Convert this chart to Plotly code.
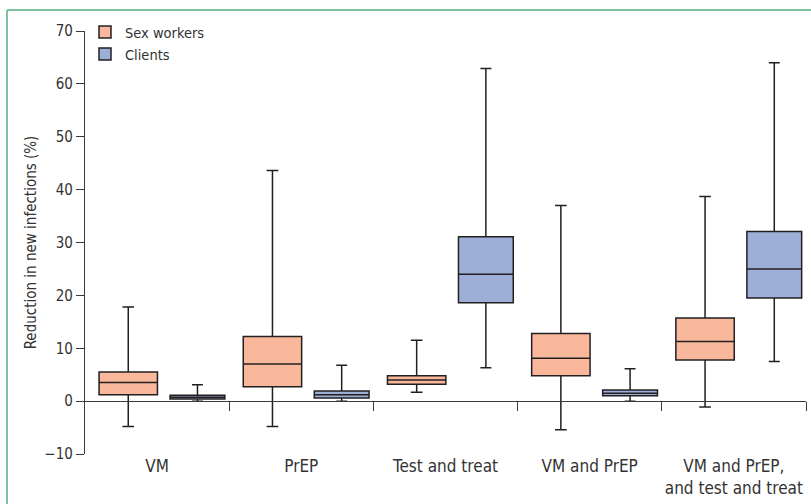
import plotly.graph_objects as go

categories = ["VM", "PrEP", "Test and treat", "VM and PrEP", "VM and PrEP,<br>and test and treat"]

sw_upper = [17.8, 43.6, 11.5, 37.0, 38.7]
sw_q3 = [5.5, 12.2, 4.8, 12.8, 15.7]
sw_median = [3.5, 7.0, 4.0, 8.1, 11.3]
sw_q1 = [1.2, 2.7, 3.2, 4.8, 7.8]
sw_lower = [-4.8, -4.8, 1.7, -5.4, -1.1]

cl_upper = [3.1, 6.8, 62.9, 6.1, 64.0]
cl_q3 = [1.1, 1.9, 31.1, 2.1, 32.1]
cl_median = [0.75, 1.2, 24.0, 1.5, 25.0]
cl_q1 = [0.4, 0.6, 18.6, 1.0, 19.5]
cl_lower = [0.0, 0.0, 6.3, 0.0, 7.5]

y_ticks = [-10, 0, 10, 20, 30, 40, 50, 60, 70]

FONT = "Liberation Sans Narrow, DejaVu Sans Condensed, Liberation Sans, sans-serif"
LINE = "#231F20"
AX = "#3a3a3a"
TXT = "#333333"

idx = list(range(len(categories)))
sw_x = [i - 0.2 for i in idx]
cl_x = [i + 0.28 for i in idx]

fig = go.Figure()
fig.add_trace(go.Box(
    name="Sex workers", x=sw_x, q1=sw_q1, median=sw_median, q3=sw_q3,
    lowerfence=sw_lower, upperfence=sw_upper, width=0.405, whiskerwidth=0.2,
    fillcolor="#F9B89B", line=dict(color=LINE, width=1.5), boxpoints=False,
))
fig.add_trace(go.Box(
    name="Clients", x=cl_x, q1=cl_q1, median=cl_median, q3=cl_q3,
    lowerfence=cl_lower, upperfence=cl_upper, width=0.38, whiskerwidth=0.2,
    fillcolor="#9DAFD6", line=dict(color=LINE, width=1.5), boxpoints=False,
))
# invisible trace to carry the zero-line axis
fig.add_trace(go.Scatter(x=[idx[0]], y=[0], xaxis="x2", mode="markers",
                         marker=dict(opacity=0), showlegend=False, hoverinfo="skip"))

W, H = 811, 504
ml, mr, mt, mb = 85, 5, 31, 50
pw, ph = W - ml - mr, H - mt - mb
ymin, ymax = -10, 70
xr = [-0.5, len(categories) - 0.5]

fig.update_layout(
    width=W, height=H,
    margin=dict(l=ml, r=mr, t=mt, b=mb, pad=0),
    paper_bgcolor="white", plot_bgcolor="white",
    boxmode="overlay",
    font=dict(family=FONT, size=14, color=TXT),
    showlegend=True,
    legend=dict(x=0.0, y=1.035, xanchor="left", yanchor="top",
                bgcolor="rgba(0,0,0,0)", font=dict(size=14.5, color=TXT),
                tracegroupgap=2, itemwidth=30),
    xaxis=dict(range=xr, tickvals=idx, ticktext=categories, ticks="",
               showline=False, showgrid=False, zeroline=False,
               tickfont=dict(size=17, color=TXT)),
    xaxis2=dict(range=xr, overlaying="x", anchor="free",
                position=(0 - ymin) / (ymax - ymin), side="bottom",
                showline=True, linecolor=AX, linewidth=1.3,
                tickvals=[i + 0.5 for i in idx], ticks="outside", ticklen=9,
                tickcolor=AX, tickwidth=1.3, showticklabels=False,
                showgrid=False, zeroline=False),
    yaxis=dict(range=[ymin, ymax], tickvals=y_ticks,
               ticktext=[("\u2212" + str(-v)) if v < 0 else str(v) for v in y_ticks],
               ticks="outside", ticklen=8, tickcolor=AX, tickwidth=1.3,
               showline=True, linecolor=AX, linewidth=1.3,
               showgrid=False, zeroline=False,
               tickfont=dict(size=15, color=TXT),
               title=dict(text="Reduction in new infections (%)",
                          font=dict(size=15, color=TXT), standoff=4)),
)

# green frame (left and top edges)
fx = (7 - ml) / pw
fy = 1 + (mt - 10) / ph
fig.add_shape(type="line", xref="paper", yref="paper", x0=fx, x1=fx,
              y0=-0.2, y1=fy, line=dict(color="#7DC2A3", width=2))
fig.add_shape(type="line", xref="paper", yref="paper", x0=fx, x1=1.02,
              y0=fy, y1=fy, line=dict(color="#7DC2A3", width=2))

fig.write_html("out.html", config={"displayModeBar": False},
               post_script="document.body.style.margin='0';document.body.style.padding='0';")
